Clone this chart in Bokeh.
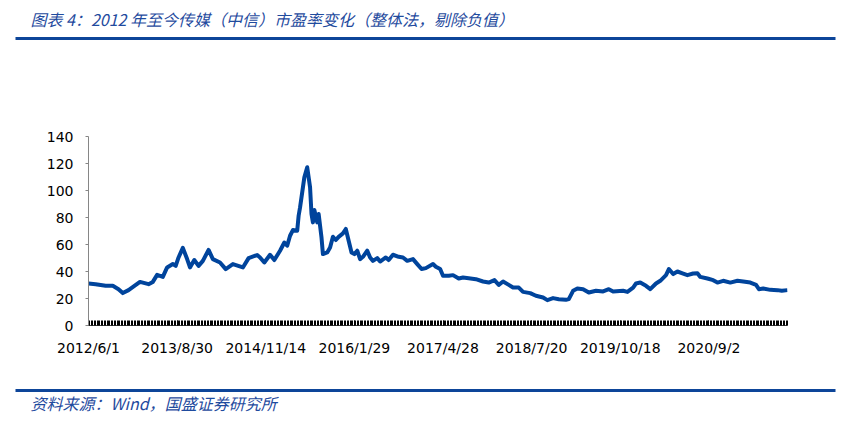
from bokeh.plotting import figure
from bokeh.layouts import column
from bokeh.models import Range1d, FixedTicker
from bokeh.core.properties import value
from bokeh.embed import file_html
from bokeh.resources import INLINE

title_text = "图表 4：2012 年至今传媒（中信）市盈率变化（整体法，剔除负值）"
source_text = "资料来源：Wind，国盛证券研究所"

# week number counted from 2012/6/1 (trading weeks), and the PE
week = [0, 5, 12, 17, 21, 24, 28, 36, 42, 45, 48, 52, 55, 59, 61, 63, 66, 69, 71, 74,
        77, 80, 84, 87, 92, 96, 101, 108, 112, 118, 120, 123, 127, 130, 134, 137, 139, 141, 143, 146,
        147, 148, 150, 151, 153, 155, 156, 157, 158, 160, 161, 163, 164, 167, 169, 171, 173, 175, 178, 180,
        182, 184, 186, 188, 190, 192, 195, 197, 199, 202, 204, 208, 210, 213, 217, 220, 223, 227, 230, 233,
        236, 241, 243, 246, 248, 252, 255, 259, 262, 266, 271, 276, 280, 284, 287, 290, 294, 297, 301, 304,
        309, 313, 318, 321, 325, 329, 334, 336, 339, 342, 346, 350, 355, 360, 364, 367, 374, 377, 381, 383,
        386, 390, 393, 397, 400, 404, 406, 409, 412, 416, 419, 423, 426, 428, 433, 437, 440, 444, 449, 454,
        458, 463, 467, 469, 472, 477, 482, 485, 489]
pe = [31.1, 30.6, 29.4, 29.4, 26.9, 24.0, 26.2, 32.3, 30.6, 32.3, 37.5, 36.0, 43.0, 45.5, 44.2, 50.4, 57.5, 49.2, 43.0, 48.5,
      44.2, 47.9, 56.0, 49.2, 46.7, 41.8, 45.5, 43.0, 49.9, 52.2, 50.4, 46.7, 52.4, 48.5, 55.4, 61.5, 59.1, 66.5, 70.7, 70.2,
      81.3, 87.5, 102.3, 109.7, 117.2, 102.3, 82.6, 76.4, 85.6, 76.4, 82.6, 65.2, 52.9, 54.1, 57.8, 65.7, 63.3, 65.7, 68.2, 71.5,
      62.8, 54.1, 52.9, 55.4, 49.2, 50.9, 55.4, 50.4, 47.9, 49.9, 47.4, 50.4, 48.5, 52.4, 50.9, 50.4, 47.9, 49.2, 45.5, 41.8,
      42.5, 45.5, 43.5, 41.8, 36.8, 36.8, 37.3, 34.8, 35.5, 35.0, 34.3, 32.6, 31.8, 33.6, 30.1, 32.6, 30.1, 28.1, 28.1, 24.9,
      24.0, 22.0, 20.7, 18.8, 20.3, 19.5, 19.0, 19.5, 25.7, 27.4, 26.9, 24.4, 25.7, 25.2, 26.9, 25.2, 25.7, 24.9, 28.1, 31.1,
      31.8, 29.4, 26.9, 31.1, 33.1, 37.3, 41.8, 38.1, 40.0, 38.5, 37.3, 38.5, 38.7, 36.0, 34.8, 33.6, 31.8, 33.1, 31.8, 33.1,
      32.6, 31.8, 30.1, 26.9, 27.4, 26.4, 26.2, 25.7, 26.2]

n_weeks = 490
tick_pos = [0, 62, 124, 186, 248, 310, 372, 434]
tick_labels = ["2012/6/1", "2013/8/30", "2014/11/14", "2016/1/29",
               "2017/4/28", "2018/7/20", "2019/10/18", "2020/9/2"]
y_ticks = [0, 20, 40, 60, 80, 100, 120, 140]

blue = "#0D4599"
text_blue = "#1F4B9E"
W = 856


def blank(h):
    # plain strip (no axes) in pixel units, used for the title and the source line
    f = figure(width=W, height=h, x_range=Range1d(0, W), y_range=Range1d(h, 0),
               output_backend="svg", toolbar_location=None, title=None,
               min_border=0, frame_align=False)
    f.axis.visible = False
    f.grid.visible = False
    f.outline_line_color = None
    return f


# header: title + rule
head = blank(48)
head.text(x=[30], y=[18], text=[title_text], text_font=value("Noto Sans CJK SC"),
          text_font_style="italic", text_font_size="16px", text_color=text_blue,
          text_baseline="middle")
head.segment(x0=[15], y0=[38], x1=[835], y1=[38], line_width=3, color=blue)

# main chart
p = figure(width=W, height=335, x_range=Range1d(0, n_weeks - 1), y_range=Range1d(0, 140),
           output_backend="svg", toolbar_location=None, title=None, frame_align=False,
           min_border_left=88, min_border_right=69, min_border_top=88, min_border_bottom=58)
p.grid.visible = False
p.outline_line_color = None
p.line(week, pe, line_width=4, color="#00449C", line_join="round")

p.yaxis.ticker = FixedTicker(ticks=y_ticks)
p.yaxis.axis_line_color = "#868686"
p.yaxis.major_tick_line_color = "#868686"
p.yaxis.major_tick_out = 3
p.yaxis.major_tick_in = 0
p.yaxis.minor_tick_line_color = None
p.yaxis.major_label_standoff = 12

p.xaxis.ticker = FixedTicker(ticks=tick_pos, minor_ticks=list(range(n_weeks)))
p.xaxis.major_label_overrides = {t: s for t, s in zip(tick_pos, tick_labels)}
p.xaxis.axis_line_color = "#404040"
p.xaxis.major_tick_line_color = "#000000"
p.xaxis.minor_tick_line_color = "#000000"
p.xaxis.major_tick_in = 5
p.xaxis.major_tick_out = 0
p.xaxis.minor_tick_in = 5
p.xaxis.minor_tick_out = 0
p.xaxis.major_label_standoff = 14

for ax in (p.xaxis, p.yaxis):
    ax.major_label_text_font = "DejaVu Sans"
    ax.major_label_text_font_size = "14px"
    ax.major_label_text_color = "#000000"

# footer: rule + source
foot = blank(46)
foot.segment(x0=[15], y0=[7], x1=[835], y1=[7], line_width=3, color=blue)
foot.text(x=[30], y=[19], text=[source_text], text_font=value("Noto Sans CJK SC"),
          text_font_style="italic", text_font_size="16px", text_color=text_blue,
          text_baseline="middle")

layout = column(head, p, foot, spacing=0)
open("out.html", "w").write(file_html(layout, INLINE))
